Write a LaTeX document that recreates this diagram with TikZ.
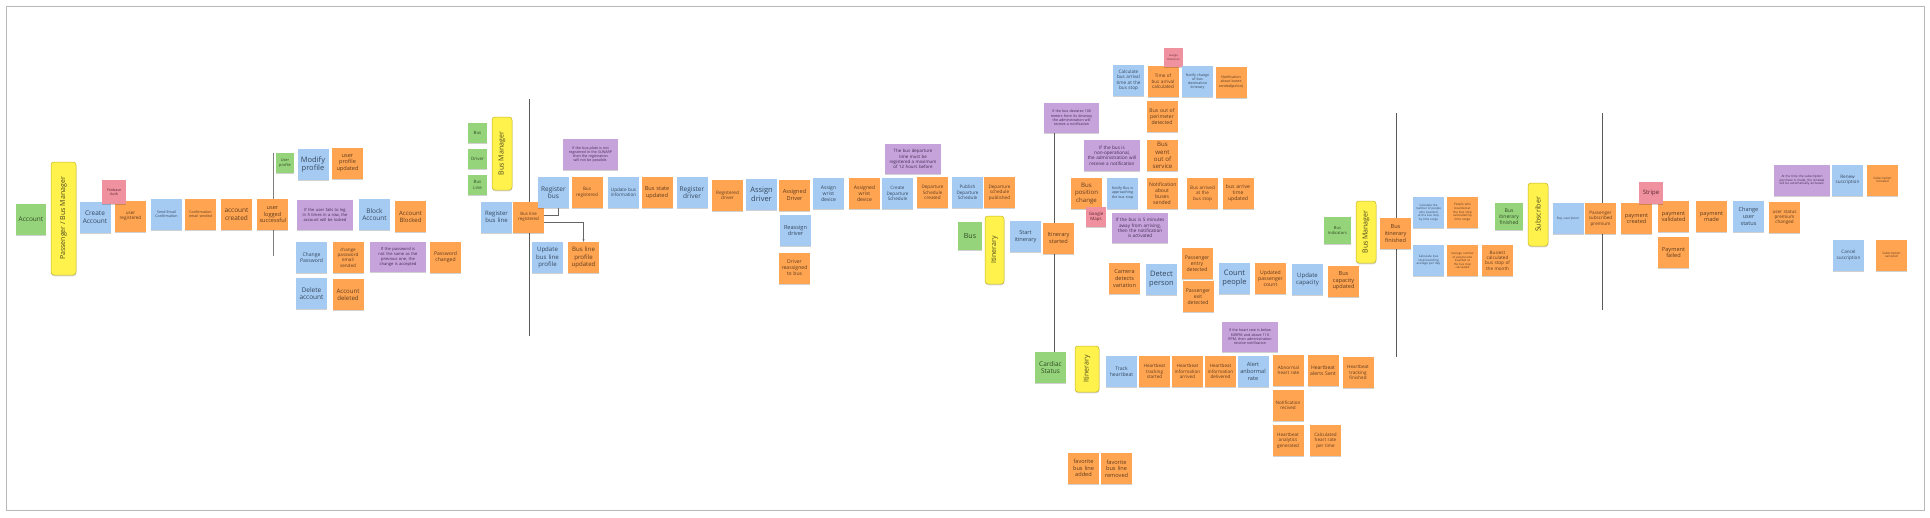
\documentclass[tikz,border=0pt]{standalone}
\usepackage{fontspec}
\setmainfont{Open Sans}
\usetikzlibrary{shadows,arrows.meta,calc}
\definecolor{evc}{HTML}{FFA552}
\definecolor{evt}{HTML}{5E3A1C}
\definecolor{cmdc}{HTML}{A6CBF2}
\definecolor{cmdt}{HTML}{34475E}
\definecolor{aggc}{HTML}{96D47C}
\definecolor{aggt}{HTML}{2F4A22}
\definecolor{polc}{HTML}{C7A3DB}
\definecolor{polt}{HTML}{3F2B52}
\definecolor{extc}{HTML}{F0919F}
\definecolor{extt}{HTML}{5A2630}
\definecolor{actc}{HTML}{FFF24D}
\definecolor{actd}{HTML}{C9B521}
\definecolor{actt}{HTML}{4A4520}
\definecolor{linec}{HTML}{5A5A5A}
\newcommand\fsz[1]{\pgfmathsetmacro\fszs{#1<6 ? #1+0.6 : #1}\pgfmathsetmacro\fszl{\fszs*1.18}\fontsize{\fszs}{\fszl}\selectfont\hyphenpenalty=10000\exhyphenpenalty=10000}
\tikzset{
  note/.style={minimum width=31pt, minimum height=31pt, inner sep=1pt,
    text width=26pt, align=center, font=\fsz{5},
    drop shadow={shadow xshift=0.4pt, shadow yshift=-1.3pt, fill=black, opacity=0.18}},
  ev/.style={note, fill=evc, text=evt},
  cmd/.style={note, fill=cmdc, text=cmdt},
  agg/.style={note, fill=aggc, text=aggt},
  pol/.style={note, fill=polc, text=polt, minimum width=56pt, minimum height=30pt, text width=49pt, font=\fsz{3.5}},
  ext/.style={note, fill=extc, text=extt},
  actor/.style={fill=actc, draw=actd, line width=0.5pt, rounded corners=3pt, rotate=90,
    inner sep=1pt, text=actt, font=\fsz{7}, align=center,
    drop shadow={shadow xshift=0.4pt, shadow yshift=-1.3pt, fill=black, opacity=0.15}},
  sz/.style 2 args={minimum width=#1pt, minimum height=#2pt, text width=#1pt-5pt},
  pivot/.style={draw=linec, line width=1pt},
  conn/.style={draw=gray!80!black, line width=0.6pt},
}
\begin{document}
\begin{tikzpicture}[x=1pt,y=-1pt]
\fill[white] (0,0) rectangle (1930,517);
\useasboundingbox (0,0) rectangle (1930,517);
\draw[gray!55, line width=0.8pt] (6,6) rectangle (1924,510);

% pivotal lines
\coordinate (l1t) at (273,153); \coordinate (l1b) at (273,256);
\coordinate (l2t) at (529,99);  \coordinate (l2b) at (529,336);
\coordinate (l4t) at (1396,113); \coordinate (l4b) at (1396,357);
\coordinate (l5t) at (1602,113); \coordinate (l5b) at (1602,310);
\draw[pivot, draw=gray] (l1t) -- (l1b);
\draw[pivot] (l2t) -- (l2b);
\draw[pivot] (l4t) -- (l4b);
\draw[pivot] (l5t) -- (l5b);

% ===== Account =====
\node[agg, sz={30}{31}, font=\fsz{6.5}] (acc) at (31,219.5) {Account};
\node[actor, minimum width=113pt, minimum height=25pt] (act1) at (63.5,218.5) {Passenger / Bus Manager};
\node[cmd, font=\fsz{6.5}] (ca) at (95,217) {Create Account};
\node[ev, font=\fsz{4}] (ur) at (130.5,216.5) {user registered};
\node[ext, sz={24}{24}, font=\fsz{3}] (fire) at (114,192) {Firebase Auth};
\node[cmd, font=\fsz{3}] (sec) at (166.5,214.5) {Send Email Confirmation};
\node[ev, font=\fsz{3}] (ces) at (200.5,214.5) {Confirmation email sended};
\node[ev, font=\fsz{6.5}] (acr) at (236.5,214.5) {account created};
\node[ev, font=\fsz{5}] (uls) at (272.5,214.5) {user logged successful};
\node[agg, sz={18}{20}, font=\fsz{3.3}] (up) at (285,163) {User profile};
\node[cmd, font=\fsz{7.5}] (mp) at (313,164.5) {Modify profile};
\node[ev, font=\fsz{5}] (upu) at (347.5,163) {user profile updated};
\node[pol] (p1) at (325,215) {If the user fails to log in 5 times in a row, the account will be locked};
\node[cmd, font=\fsz{6.5}] (ba) at (374.5,214.5) {Block Account};
\node[ev, font=\fsz{6}] (abl) at (410.5,216.5) {Account Blocked};
\node[cmd, font=\fsz{4.5}] (cp) at (311.5,257.5) {Change Password};
\node[ev, font=\fsz{4}] (cpe) at (348,257.5) {change password email sended};
\node[pol] (p2) at (398,257) {If the password is not the same as the previous one, the change is accepted};
\node[ev, font=\fsz{4.5}] (pc) at (445.5,257.5) {Password changed};
\node[cmd, font=\fsz{6.5}] (da) at (311.5,293.5) {Delete account};
\node[ev, font=\fsz{5.5}] (ad) at (348,294.5) {Account deleted};

% ===== Bus management =====
\node[agg, sz={19}{20}, font=\fsz{3.8}] (gbus) at (477.5,133) {Bus};
\node[agg, sz={19}{20}, font=\fsz{3.8}] (gdrv) at (477.5,159) {Driver};
\node[agg, sz={19}{20}, font=\fsz{3.8}] (gbl) at (477.5,185) {Bus Line};
\node[actor, minimum width=73pt, minimum height=20pt] (act2) at (502,153.5) {Bus Manager};
\node[cmd, font=\fsz{6}] (rbl) at (496.5,217) {Register bus line};
\node[ev, font=\fsz{3.8}] (blr) at (528.5,217) {Bus line registered};
\node[pol, sz={55}{31}, text width=49pt, font=\fsz{3}] (p3) at (590.5,154.5) {If the bus plate is not registered in the SUNARP then the registration will not be possible.};
\node[cmd, font=\fsz{6.5}] (rb) at (553.5,192.5) {Register bus};
\node[ev, font=\fsz{4}] (br) at (587,192.5) {Bus registered};
\node[cmd, font=\fsz{4}] (ubi) at (623.5,192.5) {Update bus information};
\node[ev, font=\fsz{5}] (bsu) at (657,192.5) {Bus state updated};
\node[cmd, font=\fsz{6.5}] (rd) at (692,192.5) {Register driver};
\node[cmd, font=\fsz{5.5}] (ubl) at (547.5,257.5) {Update bus line profile};
\node[ev, font=\fsz{5.5}] (blpu) at (583.5,257.5) {Bus line profile updated};
\draw[conn] ([yshift=2pt]blr.east) -| ([xshift=4.5pt]rb.south);
\draw[conn, -{Stealth[length=2.5pt,width=2pt]}] ([yshift=-5pt]blr.east) -| (blpu.north);
\node[ev, font=\fsz{4}] (rgd) at (727.5,195) {Registered driver};
\node[cmd, font=\fsz{7.5}] (ad2) at (761.5,194.5) {Assign driver};
\node[ev, font=\fsz{5}] (asd) at (794.5,195) {Assigned Driver};
\node[cmd, font=\fsz{5}] (rsd) at (795.5,230.5) {Reassign driver};
\node[ev, font=\fsz{4.5}] (drb) at (794.5,268) {Driver reassigned to bus};
\node[cmd, font=\fsz{4.5}] (awd) at (828.5,193.5) {Assign wrist device};
\node[ev, font=\fsz{4.5}] (awdd) at (864.5,193.5) {Assigned wrist device};
\node[cmd, font=\fsz{4}] (cds) at (897.5,193.5) {Create Departure Schedule};
\node[pol, font=\fsz{3.8}] (p4) at (913,159) {The bus departure time must be registered a maximum of 12 hours before};
\node[ev, font=\fsz{4}] (dsc) at (932.5,192.5) {Departure Schedule created};
\node[cmd, font=\fsz{4}] (pds) at (967.5,192.5) {Publish Departure Schedule};
\node[ev, font=\fsz{4}] (dsp) at (999.5,192.5) {Departure schedule published};

% ===== Itinerary =====
\node[pol, sz={55}{30}, text width=49pt, font=\fsz{3}] (p5) at (1071.5,118) {If the bus deviates 100 meters from its itinerary the administration will receive a notification};
\node[agg, sz={31}{31}, font=\fsz{6.5}] (cs) at (1050.5,367.5) {Cardiac Status};
\draw[pivot] ([xshift=3.5pt]cs.north |- p5.south) -- ([xshift=3.5pt]cs.north);
\node[agg, sz={24}{28}, font=\fsz{7}] (gbus2) at (970,236) {Bus};
\node[actor, minimum width=68pt, minimum height=19pt] (act3) at (994.5,250) {Itinerary};
\node[cmd, font=\fsz{5}] (si) at (1025.5,236.5) {Start itinerary};
\node[ev, font=\fsz{5}] (ist) at (1058.5,238) {Itinerary started};
\node[cmd, font=\fsz{4}] (cba) at (1128.5,80.5) {Calculate bus arrival time at the bus stop};
\node[ev, font=\fsz{4}] (tba) at (1163,81.5) {Time of bus arrival calculated};
\node[ext, sz={19}{19}, font=\fsz{2}] (gd) at (1173.5,57.5) {Google Directions};
\node[cmd, font=\fsz{3}] (ncd) at (1197.5,81.5) {Notify change of bus destination itinerary};
\node[ev, font=\fsz{3}] (nbp) at (1231,82) {Notification about buses sended(police)};
\node[ev, font=\fsz{4.5}] (bop) at (1162,116.5) {Bus out of perimeter detected};
\node[pol, sz={56}{31}, text width=50pt, font=\fsz{4}] (p6) at (1112,155.5) {If the bus is non-operational, the administration will receive a notification};
\node[ev, font=\fsz{5.5}] (bwo) at (1162.5,155.5) {Bus went out of service};
\node[ev, font=\fsz{5.5}] (bpc) at (1086.5,193.5) {Bus position change};
\node[cmd, font=\fsz{3}] (nba) at (1122.5,193) {Notify Bus is approaching the bus stop};
\node[ev, font=\fsz{4.5}] (nab) at (1162,193.5) {Notification about buses sended};
\node[ev, font=\fsz{4}] (bab) at (1202.5,193.5) {Bus arrived at the bus stop};
\node[ev, font=\fsz{4.5}] (bat) at (1238,193) {bus arrive time updated};
\node[ext, sz={20}{20}, font=\fsz{3.8}] (gm) at (1096,217) {Google Maps};
\node[pol, font=\fsz{4}] (p7) at (1140,228) {If the bus is 5 minutes away from arriving, then the notification is activated};
\node[ev, font=\fsz{5}] (cdv) at (1124.5,278.5) {Camera detects variation};
\node[cmd, font=\fsz{7.5}] (dp) at (1161.5,279) {Detect person};
\node[ev, font=\fsz{4.5}] (ped) at (1197,263.5) {Passenger entry detected};
\node[ev, font=\fsz{4.5}] (pxd) at (1198,296.5) {Passenger exit detected};
\node[cmd, font=\fsz{7.5}] (cpp) at (1234.5,278.5) {Count people};
\node[ev, font=\fsz{4.5}] (upc) at (1270.5,278.5) {Updated passenger count};
\node[cmd, font=\fsz{6}] (ucap) at (1307.5,279) {Update capacity};
\node[ev, font=\fsz{5}] (bcu) at (1343.5,281) {Bus capacity updated};

% ===== Heartbeat =====
\node[pol, font=\fsz{3}] (p8) at (1250,337) {If the heart rate is below 60RPM and above 110 RPM, then administration receive notification};
\node[actor, minimum width=46pt, minimum height=24pt] (act4) at (1087,369) {Itinerary};
\node[cmd, font=\fsz{4.5}] (th) at (1121.5,371.5) {Track heartbeat};
\node[ev, font=\fsz{4}] (hts) at (1154.5,371.5) {Heartbeat tracking started};
\node[ev, font=\fsz{4}] (hia) at (1187.5,371.5) {Heartbeat information arrived};
\node[ev, font=\fsz{4}] (hid) at (1220.5,371.5) {Heartbeat information delivered};
\node[cmd, font=\fsz{5}] (aar) at (1253,371.5) {Alert anbormal rate};
\node[ev, font=\fsz{4}] (ahr) at (1288.5,370.5) {Abnormal heart rate};
\node[ev, font=\fsz{4.5}] (has) at (1323,370.5) {Heartbeat alerts Sent};
\node[ev, font=\fsz{4}] (htf) at (1358,372.5) {Heartbeat tracking finished};
\node[ev, font=\fsz{4}] (nr) at (1288,405.5) {Notification recived};
\node[ev, font=\fsz{4}] (hag) at (1288,440.5) {Heartbeat analytics generated};
\node[ev, font=\fsz{4}] (chr) at (1325.5,440.5) {Calculated heart rate per time};
\node[ev, font=\fsz{5}] (fba) at (1083.5,468) {favorite bus line added};
\node[ev, font=\fsz{5}] (fbr) at (1116.5,468.5) {favorite bus line removed};

% ===== Indicators =====
\node[agg, sz={27}{27}, font=\fsz{3.5}] (gbi) at (1337.5,230.5) {Bus Indicators};
\node[actor, minimum width=62pt, minimum height=20pt] (act5) at (1366,232) {Bus Manager};
\node[ev, font=\fsz{5}] (bif) at (1395.5,233.5) {Bus itinerary finished};
\node[cmd, font=\fsz{2.3}] (cnp) at (1428.5,212.5) {Calculate the number of people who boarded at the bus stop by time range};
\node[ev, font=\fsz{2.5}] (pbc) at (1462.5,212.5) {People who boarded at the bus stop calculated by time range};
\node[cmd, font=\fsz{2.5}] (cbs) at (1428.5,260.5) {Calculate bus stop boarding average per day};
\node[ev, font=\fsz{2.3}] (anp) at (1462.5,260.5) {Average number of people who boarded at the bus stop calculated};
\node[ev, font=\fsz{4}] (bcb) at (1497.5,260.5) {Busiest calculated bus stop of the month};
\node[agg, sz={28}{27}, font=\fsz{4.5}] (gbif) at (1509,216.5) {Bus itinerary finished};

% ===== Subscription =====
\node[actor, minimum width=63pt, minimum height=20pt] (act6) at (1538,214.5) {Subscriber};
\node[cmd, font=\fsz{2.5}] (bs) at (1568,218.5) {Buy suscription};
\node[ev, font=\fsz{4}] (psp) at (1600.5,218.5) {Passenger subscribed premium};
\node[ev, font=\fsz{5}] (pcr) at (1636.5,218.5) {payment created};
\node[ev, font=\fsz{5}] (pv) at (1673.5,216.5) {payment validated};
\node[ext, sz={24}{22}, font=\fsz{6}] (str) at (1651,193) {Stripe};
\node[ev, font=\fsz{5}] (pf) at (1673.5,252.5) {Payment failed};
\node[ev, font=\fsz{5}] (pm) at (1711.5,216.5) {payment made};
\node[cmd, font=\fsz{5}] (cus) at (1748.5,216.5) {Change user status};
\node[ev, font=\fsz{4}] (usp) at (1784.5,217.5) {user status premium changed};
\node[pol, sz={56}{31}, text width=50pt, font=\fsz{2.5}] (p9) at (1802,180.5) {At the time the subscription purchase is made, the renewal will be automatically activated.};
\node[cmd, font=\fsz{4}] (rs) at (1847.5,180) {Renew suscription};
\node[ev, font=\fsz{2.5}] (sr) at (1882.5,180) {Subscription renewed};
\node[cmd, font=\fsz{4}] (csu) at (1848.5,255.5) {Cancel suscription};
\node[ev, font=\fsz{2.5}] (sca) at (1891.5,255) {Subscription canceled};
\end{tikzpicture}
\end{document}
